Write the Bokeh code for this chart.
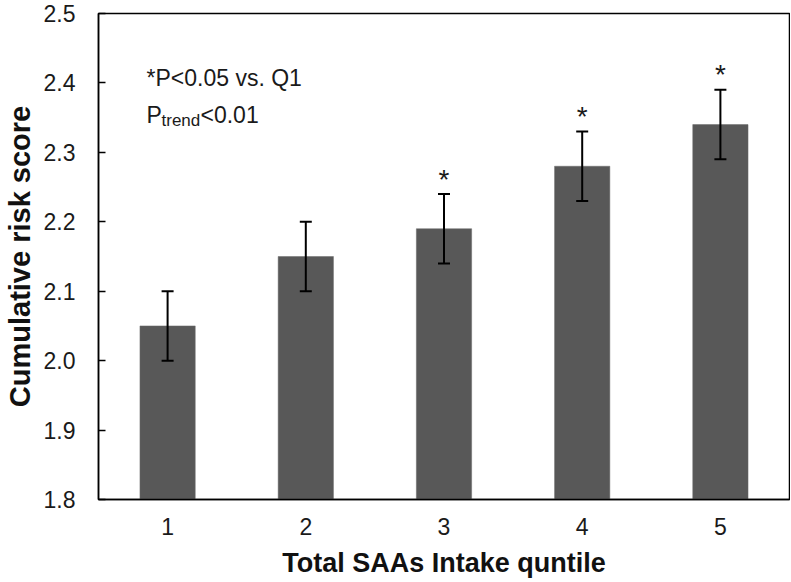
from bokeh.plotting import figure
from bokeh.models import Range1d, FixedTicker, ColumnDataSource, Whisker, TeeHead
from bokeh.core.properties import value
from bokeh.embed import file_html
from bokeh.resources import INLINE

# ---- data ----
quintiles = [1, 2, 3, 4, 5]
quintile_labels = ["1", "2", "3", "4", "5"]
mean_score = [2.05, 2.15, 2.19, 2.28, 2.34]
sem = [0.05, 0.05, 0.05, 0.05, 0.05]
significance = ["", "", "*", "*", "*"]
y_ticks = [1.8, 1.9, 2.0, 2.1, 2.2, 2.3, 2.4, 2.5]
y_tick_labels = ["1.8", "1.9", "2.0", "2.1", "2.2", "2.3", "2.4", "2.5"]

FONT = "Liberation Sans"

src = ColumnDataSource(dict(
    x=quintiles,
    y=mean_score,
    upper=[m + e for m, e in zip(mean_score, sem)],
    lower=[m - e for m, e in zip(mean_score, sem)],
    star=significance,
))

p = figure(width=790, height=580, output_backend="svg", toolbar_location=None,
           x_range=Range1d(0.5, 5.5), y_range=Range1d(1.8, 2.5),
           min_border_left=95, min_border_right=1, min_border_top=13, min_border_bottom=79)

p.outline_line_color = "black"
p.outline_line_width = 1.5
p.xgrid.visible = False
p.ygrid.visible = False
p.background_fill_color = "white"
p.border_fill_color = "white"

p.vbar(x="x", top="y", bottom=1.8, width=0.4, source=src,
       fill_color="#585858", line_color="#6a6a6a", line_width=0.5)

w = Whisker(base="x", upper="upper", lower="lower", source=src, level="overlay",
            line_color="black", line_width=2,
            upper_head=TeeHead(size=12, line_color="black", line_width=2),
            lower_head=TeeHead(size=12, line_color="black", line_width=2))
p.add_layout(w)

p.text(x="x", y="upper", text="star", source=src, y_offset=-15,
       text_align="center", text_baseline="alphabetic",
       text_font=value(FONT), text_font_size="28px", text_color="#1a1a1a")

# annotation text
p.text(x=[0.5], y=[2.5], text=["*P<0.05 vs. Q1"], x_offset=48, y_offset=64,
       text_align="left", text_baseline="alphabetic",
       text_font=value(FONT), text_font_size="23px", text_color="#1a1a1a")
p.text(x=[0.5], y=[2.5], text=["P"], x_offset=48, y_offset=101,
       text_align="left", text_baseline="alphabetic",
       text_font=value(FONT), text_font_size="23px", text_color="#1a1a1a")
p.text(x=[0.5], y=[2.5], text=["trend"], x_offset=63, y_offset=107,
       text_align="left", text_baseline="alphabetic",
       text_font=value(FONT), text_font_size="17px", text_color="#1a1a1a")
p.text(x=[0.5], y=[2.5], text=["<0.01"], x_offset=102, y_offset=101,
       text_align="left", text_baseline="alphabetic",
       text_font=value(FONT), text_font_size="23px", text_color="#1a1a1a")

# axes
xa = p.xaxis[0]
xa.ticker = FixedTicker(ticks=quintiles)
xa.major_label_overrides = {q: l for q, l in zip(quintiles, quintile_labels)}
xa.major_tick_in = 0
xa.major_tick_out = 0
xa.minor_tick_line_color = None
xa.axis_line_color = "black"
xa.axis_line_width = 1.5
xa.major_label_standoff = 18
xa.major_label_text_font = FONT
xa.major_label_text_font_size = "23px"
xa.major_label_text_color = "#1a1a1a"
xa.axis_label = "Total SAAs Intake quntile"
xa.axis_label_text_font = FONT
xa.axis_label_text_font_size = "27px"
xa.axis_label_text_font_style = "bold"
xa.axis_label_text_color = "#111111"
xa.axis_label_standoff = 10

ya = p.yaxis[0]
ya.ticker = FixedTicker(ticks=y_ticks)
ya.major_label_overrides = {t: l for t, l in zip(y_ticks, y_tick_labels)}
ya.major_tick_in = 7
ya.major_tick_out = 0
ya.major_tick_line_color = "black"
ya.major_tick_line_width = 1.5
ya.minor_tick_line_color = None
ya.axis_line_color = "black"
ya.axis_line_width = 1.5
ya.major_label_standoff = 23
ya.major_label_text_font = FONT
ya.major_label_text_font_size = "23px"
ya.major_label_text_color = "#1a1a1a"
ya.axis_label = "Cumulative risk score"
ya.axis_label_text_font = FONT
ya.axis_label_text_font_size = "29px"
ya.axis_label_text_font_style = "bold"
ya.axis_label_text_color = "#111111"
ya.axis_label_standoff = 5

open("out.html", "w").write(file_html(p, INLINE))
